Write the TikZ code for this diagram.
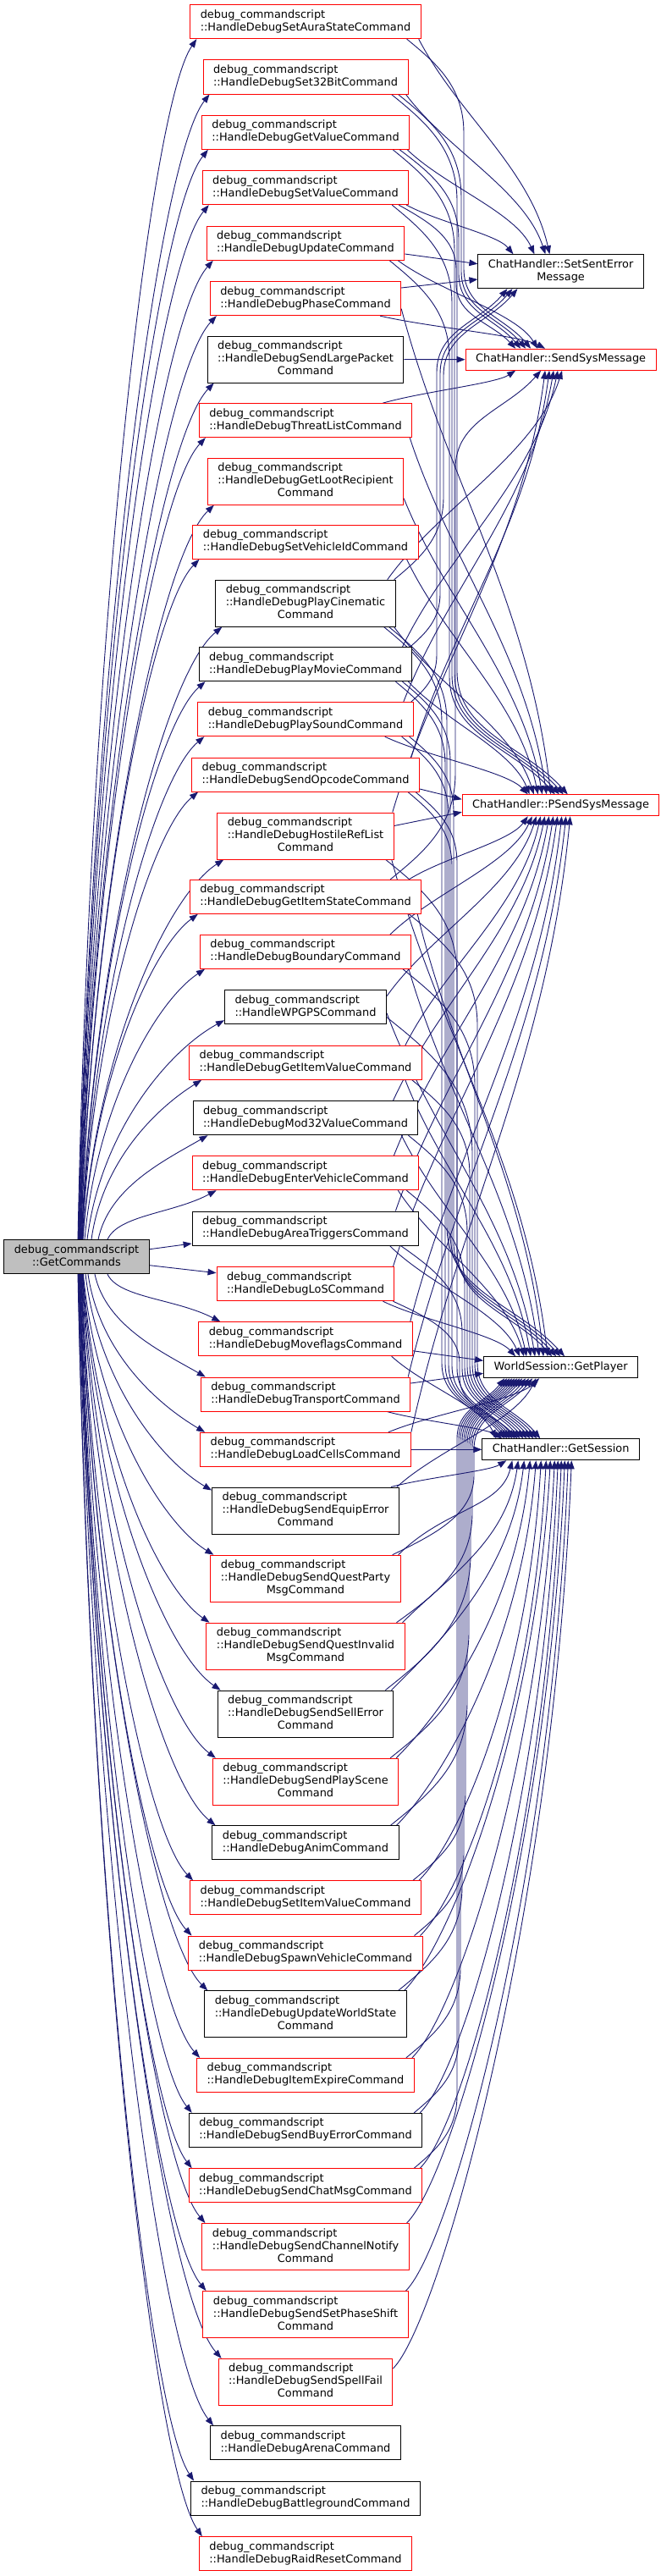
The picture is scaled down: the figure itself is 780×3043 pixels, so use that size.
\documentclass[tikz,border=0pt]{standalone}
\usepackage{fontspec}
\setmainfont{DejaVu Sans}
\usetikzlibrary{arrows.meta,calc}
\pgfdeclarelayer{bg}
\pgfsetlayers{bg,main}
\definecolor{edgec}{HTML}{191970}
\definecolor{gcfill}{HTML}{BFBFBF}
\definecolor{nred}{HTML}{FF0000}
\newcommand\ml[1]{\begin{tabular}{@{}l@{}}debug\_commandscript\\::#1\end{tabular}}
\newcommand\mlc[2]{\begin{tabular}{@{}l@{}}debug\_commandscript\\::#1\\\multicolumn{1}{@{}c@{}}{#2}\end{tabular}}
\newcommand\cl[1]{\begin{tabular}{@{}c@{}}#1\end{tabular}}
\tikzset{
  nbox/.style={draw, fill=white, line width=1pt, inner xsep=12pt, inner ysep=5pt, font=\fontsize{12.9}{15}\selectfont},
  rbox/.style={nbox, draw=nred},
  bbox/.style={nbox, draw=black},
  cedge/.style={draw=edgec, line width=0.9pt, -{Triangle[length=10pt,width=7.5pt]}},
}
% edge from GetCommands
\newcommand\gE[2]{\path (#1) coordinate (ta) (#2) coordinate (hb);
  \draw[cedge] let \p1=(ta), \p2=(hb) in (ta) .. controls ({\x1+0.1*(\x2-\x1)},{\y1+0.5*(\y2-\y1)}) and ({\x2-0.4*(\x2-\x1)},{\y2-0.04*(\y2-\y1)-25*sign(\y2-\y1)}) .. (hb);}
% direct edge
\newcommand\dA[2]{\path (#1) coordinate (ta) (#2) coordinate (hb);
  \draw[cedge] let \p1=(ta), \p2=(hb) in (ta) .. controls ({\x1+0.3*(\x2-\x1)},{\y1+0.35*(\y2-\y1)}) and ({\x2-0.15*(\x2-\x1)},{\y2-0.4*(\y2-\y1)}) .. (hb);}
% direct edge leaving at 45 degrees
\newcommand\dB[2]{\path (#1) coordinate (ta) (#2) coordinate (hb);
  \draw[cedge] let \p1=(ta), \p2=(hb) in (ta) .. controls ({\x1+55pt},{\y1+55*sign(\y2-\y1)}) and ({\x2-0.1*(\x2-\x1)},{\y2-0.5*(\y2-\y1)}) .. (hb);}
% edge running along a vertical lane
\newcommand\lE[3]{\path (#1) coordinate (ta) (#2) coordinate (hb);
  \draw[cedge] let \p1=(ta), \p2=(hb),
    \n1={#3-\x1}, \n2={sign(\y2-\y1)},
    \n3={min(1.5*abs(\n1)+10,0.45*abs(\y2-\y1))},
    \n4={min(abs(\x2-#3)+15,0.45*abs(\y2-\y1))} in
   (ta) .. controls ({\x1+0.5*(\n1)},{\y1+0.25*(\n3)*(\n2)}) and ({#3pt},{\y1+0.5*(\n3)*(\n2)}) .. ({#3pt},{\y1+(\n3)*(\n2)})
   -- ({#3pt},{\y2-(\n4)*(\n2)})
   .. controls ({#3pt},{\y2-0.5*(\n4)*(\n2)}) and ({\x2-0.4*(\x2-#3)},{\y2-0.4*(\n4)*(\n2)}) .. (hb);}
\begin{document}
\begin{tikzpicture}[x=1pt,y=-1pt]
\useasboundingbox (0,0) rectangle (780,3043);

\node[rbox] (n1) at (361,25.7) {\ml{HandleDebugSetAuraStateCommand}};
\node[rbox] (n2) at (361,91) {\ml{HandleDebugSet32BitCommand}};
\node[rbox] (n3) at (361,156.3) {\ml{HandleDebugGetValueCommand}};
\node[rbox] (n4) at (361,221.7) {\ml{HandleDebugSetValueCommand}};
\node[rbox] (n5) at (361,287.3) {\ml{HandleDebugUpdateCommand}};
\node[rbox] (n6) at (361,352.7) {\ml{HandleDebugPhaseCommand}};
\node[bbox] (n7) at (361,424.5) {\mlc{HandleDebugSendLargePacket}{Command}};
\node[rbox] (n8) at (361,496.7) {\ml{HandleDebugThreatListCommand}};
\node[rbox] (n9) at (361,568.7) {\mlc{HandleDebugGetLootRecipient}{Command}};
\node[rbox] (n10) at (361,640.3) {\ml{HandleDebugSetVehicleIdCommand}};
\node[bbox] (n11) at (361,712.7) {\mlc{HandleDebugPlayCinematic}{Command}};
\node[bbox] (n12) at (361,784.7) {\ml{HandleDebugPlayMovieCommand}};
\node[rbox] (n13) at (361,849.7) {\ml{HandleDebugPlaySoundCommand}};
\node[rbox] (n14) at (361,915) {\ml{HandleDebugSendOpcodeCommand}};
\node[rbox] (n15) at (361,987.5) {\mlc{HandleDebugHostileRefList}{Command}};
\node[rbox] (n16) at (361,1059.3) {\ml{HandleDebugGetItemStateCommand}};
\node[rbox] (n17) at (361,1124.3) {\ml{HandleDebugBoundaryCommand}};
\node[bbox] (n18) at (361,1189.7) {\ml{HandleWPGPSCommand}};
\node[rbox] (n19) at (361,1255.3) {\ml{HandleDebugGetItemValueCommand}};
\node[bbox] (n20) at (361,1320.7) {\ml{HandleDebugMod32ValueCommand}};
\node[rbox] (n21) at (361,1385.7) {\ml{HandleDebugEnterVehicleCommand}};
\node[bbox] (n22) at (361,1451) {\ml{HandleDebugAreaTriggersCommand}};
\node[rbox] (n23) at (361,1516.7) {\ml{HandleDebugLoSCommand}};
\node[rbox] (n24) at (361,1581.7) {\ml{HandleDebugMoveflagsCommand}};
\node[rbox] (n25) at (361,1647) {\ml{HandleDebugTransportCommand}};
\node[rbox] (n26) at (361,1712.3) {\ml{HandleDebugLoadCellsCommand}};
\node[bbox] (n27) at (361,1784.5) {\mlc{HandleDebugSendEquipError}{Command}};
\node[rbox] (n28) at (361,1864.7) {\mlc{HandleDebugSendQuestParty}{MsgCommand}};
\node[rbox] (n29) at (361,1944.7) {\mlc{HandleDebugSendQuestInvalid}{MsgCommand}};
\node[bbox] (n30) at (361,2024.5) {\mlc{HandleDebugSendSellError}{Command}};
\node[rbox] (n31) at (361,2104.7) {\mlc{HandleDebugSendPlayScene}{Command}};
\node[bbox] (n32) at (361,2176.7) {\ml{HandleDebugAnimCommand}};
\node[rbox] (n33) at (361,2241.8) {\ml{HandleDebugSetItemValueCommand}};
\node[rbox] (n34) at (361,2307) {\ml{HandleDebugSpawnVehicleCommand}};
\node[bbox] (n35) at (361,2379.3) {\mlc{HandleDebugUpdateWorldState}{Command}};
\node[rbox] (n36) at (361,2451.3) {\ml{HandleDebugItemExpireCommand}};
\node[bbox] (n37) at (361,2516.3) {\ml{HandleDebugSendBuyErrorCommand}};
\node[rbox] (n38) at (361,2581.7) {\ml{HandleDebugSendChatMsgCommand}};
\node[rbox] (n39) at (361,2654) {\mlc{HandleDebugSendChannelNotify}{Command}};
\node[rbox] (n40) at (361,2734) {\mlc{HandleDebugSendSetPhaseShift}{Command}};
\node[rbox] (n41) at (361,2813.8) {\mlc{HandleDebugSendSpellFail}{Command}};
\node[bbox] (n42) at (361,2885.7) {\ml{HandleDebugArenaCommand}};
\node[bbox] (n43) at (361,2951) {\ml{HandleDebugBattlegroundCommand}};
\node[rbox] (n44) at (361,3016.7) {\ml{HandleDebugRaidResetCommand}};

\node[bbox] (sse) at (662.6,320.7) {\cl{ChatHandler::SetSentError\\Message}};
\node[rbox] (ssm) at (662.6,424.7) {\cl{ChatHandler::SendSysMessage}};
\node[rbox] (pssm) at (662.6,951.3) {\cl{ChatHandler::PSendSysMessage}};
\node[bbox] (gp) at (662.6,1615.3) {\cl{WorldSession::GetPlayer}};
\node[bbox] (gs) at (662.6,1712.3) {\cl{ChatHandler::GetSession}};
\node[bbox, fill=gcfill] (gc) at (90.5,1484.7) {\cl{debug\_commandscript\\::GetCommands}};

\begin{pgfonlayer}{bg}
\fill[white] (0,0) rectangle (780,3043);
% GetCommands -> handlers
\gE{$(gc.north)+(1.5,0)$}{$(n1.south west)+(8,0)$}
\gE{$(gc.north)+(1.9,0)$}{$(n2.south west)+(8,0)$}
\gE{$(gc.north)+(2.3,0)$}{$(n3.south west)+(8,0)$}
\gE{$(gc.north)+(2.7,0)$}{$(n4.south west)+(8,0)$}
\gE{$(gc.north)+(3.1,0)$}{$(n5.south west)+(8,0)$}
\gE{$(gc.north)+(3.5,0)$}{$(n6.south west)+(8,0)$}
\gE{$(gc.north)+(3.9,0)$}{$(n7.south west)+(8,0)$}
\gE{$(gc.north)+(4.3,0)$}{$(n8.south west)+(8,0)$}
\gE{$(gc.north)+(4.7,0)$}{$(n9.south west)+(8,0)$}
\gE{$(gc.north)+(5.1,0)$}{$(n10.south west)+(8,0)$}
\gE{$(gc.north)+(5.5,0)$}{$(n11.south west)+(8,0)$}
\gE{$(gc.north)+(5.9,0)$}{$(n12.south west)+(8,0)$}
\gE{$(gc.north)+(6.3,0)$}{$(n13.south west)+(8,0)$}
\gE{$(gc.north)+(6.7,0)$}{$(n14.south west)+(8,0)$}
\gE{$(gc.north)+(7.1,0)$}{$(n15.south west)+(8,0)$}
\gE{$(gc.north)+(7.5,0)$}{$(n16.south west)+(10,0)$}
\gE{$(gc.north)+(9.5,0)$}{$(n17.south west)+(6,0)$}
\gE{$(gc.north)+(12.5,0)$}{$(n18.south west)+(0,-5)$}
\gE{$(gc.north)+(17.5,0)$}{$(n19.south west)+(15,0)$}
\gE{$(gc.north)+(25.5,0)$}{$(n20.south west)+(18,0)$}
\gE{$(gc.north)+(36.5,0)$}{$(n21.south west)+(29,0)$}
\draw[cedge] ($(gc.east)+(0,-9)$) -- ($(n22.west)+(0,18)$);
\draw[cedge] ($(gc.east)+(0,10)$) -- ($(n23.west)+(0,-13)$);
\gE{$(gc.south)+(36.5,0)$}{$(n24.north west)+(26,0)$}
\gE{$(gc.south)+(21.5,0)$}{$(n25.north west)+(6,0)$}
\gE{$(gc.south)+(13.5,0)$}{$(n26.north west)+(6,0)$}
\gE{$(gc.south)+(10.5,0)$}{$(n27.north west)+(0,4)$}
\gE{$(gc.south)+(7.9,0)$}{$(n28.north west)+(4,0)$}
\gE{$(gc.south)+(7.5,0)$}{$(n29.north west)+(4,0)$}
\gE{$(gc.south)+(7.1,0)$}{$(n30.north west)+(4,0)$}
\gE{$(gc.south)+(6.7,0)$}{$(n31.north west)+(4,0)$}
\gE{$(gc.south)+(6.3,0)$}{$(n32.north west)+(4,0)$}
\gE{$(gc.south)+(5.9,0)$}{$(n33.north west)+(4,0)$}
\gE{$(gc.south)+(5.5,0)$}{$(n34.north west)+(4,0)$}
\gE{$(gc.south)+(5.1,0)$}{$(n35.north west)+(4,0)$}
\gE{$(gc.south)+(4.7,0)$}{$(n36.north west)+(4,0)$}
\gE{$(gc.south)+(4.3,0)$}{$(n37.north west)+(4,0)$}
\gE{$(gc.south)+(3.9,0)$}{$(n38.north west)+(4,0)$}
\gE{$(gc.south)+(3.5,0)$}{$(n39.north west)+(4,0)$}
\gE{$(gc.south)+(3.1,0)$}{$(n40.north west)+(4,0)$}
\gE{$(gc.south)+(2.7,0)$}{$(n41.north west)+(4,0)$}
\gE{$(gc.south)+(2.3,0)$}{$(n42.north west)+(4,0)$}
\gE{$(gc.south)+(1.9,0)$}{$(n43.north west)+(4,0)$}
\gE{$(gc.south)+(1.5,0)$}{$(n44.north west)+(4,0)$}

% handlers -> callees
\dA{$(n1.south east)+(-3,0)$}{$(sse.north west)+(85,0)$}
\lE{$(n1.south east)+(-17,0)$}{$(ssm.north west)+(77.5,0)$}{548}
\dA{$(n2.south east)+(-3,0)$}{$(sse.north west)+(80,0)$}
\lE{$(n2.south east)+(-12,0)$}{$(ssm.north west)+(71.5,0)$}{545}
\lE{$(n2.south east)+(-20,0)$}{$(pssm.north west)+(125,0)$}{540}
\dA{$(n3.south east)+(-3,0)$}{$(sse.north west)+(67,0)$}
\lE{$(n3.south east)+(-12,0)$}{$(ssm.north west)+(65.5,0)$}{542}
\lE{$(n3.south east)+(-20,0)$}{$(pssm.north west)+(120,0)$}{537}
\dA{$(n4.south east)+(-3,0)$}{$(sse.north west)+(42,0)$}
\lE{$(n4.south east)+(-12,0)$}{$(ssm.north west)+(59.5,0)$}{539}
\lE{$(n4.south east)+(-20,0)$}{$(pssm.north west)+(115,0)$}{534}
\draw[cedge] ($(n5.east)+(0,12.7)$) -- ($(sse.west)+(0,-9)$);
\dA{$(n5.south east)+(-8,0)$}{$(ssm.north west)+(85.5,0)$}
\lE{$(n5.south east)+(-18,0)$}{$(pssm.north west)+(110,0)$}{531}
\draw[cedge] ($(n6.east)+(0,-12.7)$) -- ($(sse.west)+(0,9.3)$);
\dA{$(n6.south east)+(-25,0)$}{$(ssm.north west)+(94.5,0)$}
\dA{$(n6.east)+(0,12)$}{$(pssm.north west)+(105,0)$}
\draw[cedge] (n7.east) -- (ssm.west);
\dA{$(n8.north east)+(-35,0)$}{$(ssm.south west)+(59.5,0)$}
\dA{$(n8.south east)+(-3,0)$}{$(pssm.north west)+(100,0)$}
\dA{$(n9.east)+(0,20)$}{$(pssm.north west)+(95,0)$}
\dA{$(n10.south east)+(-14,0)$}{$(pssm.north west)+(90,0)$}
\lE{$(n11.north east)+(-2,0)$}{$(sse.south west)+(47,0)$}{524}
\dA{$(n11.north east)+(-10,0)$}{$(ssm.south west)+(114.5,0)$}
\dA{$(n11.south east)+(-2,0)$}{$(pssm.north west)+(85,0)$}
\lE{$(n11.south east)+(-8,0)$}{$(gp.north west)+(96,0)$}{528}
\lE{$(n11.south east)+(-14,0)$}{$(gs.north west)+(27,0)$}{522}
\lE{$(n12.north east)+(-3,0)$}{$(sse.south west)+(41,0)$}{520}
\dA{$(n12.north east)+(-12,0)$}{$(ssm.south west)+(109.5,0)$}
\dA{$(n12.south east)+(-5,0)$}{$(pssm.north west)+(80,0)$}
\lE{$(n12.south east)+(-12,0)$}{$(gp.north west)+(91,0)$}{532}
\lE{$(n12.south east)+(-20,0)$}{$(gs.north west)+(30,0)$}{526}
\lE{$(n13.north east)+(-3,0)$}{$(sse.south west)+(35,0)$}{516}
\dA{$(n13.north east)+(-12,0)$}{$(ssm.south west)+(104.5,0)$}
\dA{$(n13.south east)+(-34,0)$}{$(pssm.north west)+(78,0)$}
\lE{$(n13.south east)+(-5,0)$}{$(gp.north west)+(86,0)$}{536}
\lE{$(n13.south east)+(-14,0)$}{$(gs.north west)+(33,0)$}{530}
\dA{$(n14.north east)+(-10,0)$}{$(ssm.south west)+(99.5,0)$}
\draw[cedge] ($(n14.east)+(0,17)$) -- ($(pssm.west)+(0,-7)$);
\lE{$(n14.south east)+(-5,0)$}{$(gp.north west)+(81,0)$}{540}
\lE{$(n14.south east)+(-14,0)$}{$(gs.north west)+(36,0)$}{534}
\dA{$(n15.north east)+(-2,0)$}{$(ssm.south west)+(94.5,0)$}
\draw[cedge] ($(n15.east)+(0,-12)$) -- ($(pssm.west)+(0,8)$);
\dA{$(n15.south east)+(-3,0)$}{$(gp.north west)+(76,0)$}
\lE{$(n15.south east)+(-10,0)$}{$(gs.north west)+(39,0)$}{540}
\lE{$(n16.north east)+(-37,0)$}{$(ssm.south west)+(89.5,0)$}{538}
\dA{$(n16.north east)+(-15,0)$}{$(pssm.south west)+(78,0)$}
\dA{$(n16.south east)+(-5,0)$}{$(gp.north west)+(71,0)$}
\lE{$(n16.south east)+(-15,0)$}{$(gs.north west)+(69,0)$}{564}
\dA{$(n17.north east)+(-25,0)$}{$(pssm.south west)+(83,0)$}
\dA{$(n17.south east)+(-3,0)$}{$(gp.north west)+(66,0)$}
\lE{$(n17.south east)+(-10,0)$}{$(gs.north west)+(65,0)$}{561}
\dA{$(n18.east)+(0,-13)$}{$(pssm.south west)+(88,0)$}
\dA{$(n18.east)+(0,7)$}{$(gp.north west)+(61,0)$}
\lE{$(n18.east)+(0,12)$}{$(gs.north west)+(61,0)$}{558}
\dA{$(n19.north east)+(-20,0)$}{$(pssm.south west)+(93,0)$}
\dA{$(n19.south east)+(-20,0)$}{$(gp.north west)+(56,0)$}
\lE{$(n19.south east)+(-12,0)$}{$(gs.north west)+(57,0)$}{555}
\dA{$(n20.north east)+(-30,0)$}{$(pssm.south west)+(98,0)$}
\dA{$(n20.south east)+(-20,0)$}{$(gp.north west)+(51,0)$}
\lE{$(n20.south east)+(-12,0)$}{$(gs.north west)+(53,0)$}{552}
\dA{$(n21.north east)+(-30,0)$}{$(pssm.south west)+(103,0)$}
\dA{$(n21.south east)+(-25,0)$}{$(gp.north west)+(48,0)$}
\lE{$(n21.south east)+(-15,0)$}{$(gs.north west)+(49,0)$}{549}
\dA{$(n22.north east)+(-28,0)$}{$(pssm.south west)+(108,0)$}
\dA{$(n22.south east)+(-35,0)$}{$(gp.north west)+(43,0)$}
\lE{$(n22.south east)+(-22,0)$}{$(gs.north west)+(45,0)$}{546}
\dA{$(n23.north east)+(-2,0)$}{$(pssm.south west)+(113,0)$}
\dA{$(n23.south east)+(-14,0)$}{$(gp.north west)+(38,0)$}
\lE{$(n23.south east)+(-2,0)$}{$(gs.north west)+(42,0)$}{543}
\dA{$(n24.north east)+(-3,0)$}{$(pssm.south west)+(118,0)$}
\draw[cedge] ($(n24.east)+(0,14)$) -- ($(gp.west)+(0,-8)$);
\dA{$(n24.south east)+(-25,0)$}{$(gs.north west)+(17,0)$}
\dA{$(n25.north east)+(-3,0)$}{$(pssm.south west)+(123,0)$}
\draw[cedge] ($(n25.east)+(0,-13)$) -- ($(gp.west)+(0,7)$);
\dA{$(n25.south east)+(-28,0)$}{$(gs.north west)+(24,0)$}
\dA{$(n26.north east)+(0,0)$}{$(pssm.south west)+(128,0)$}
\dA{$(n26.north east)+(-27,0)$}{$(gp.south west)+(66,0)$}
\draw[cedge] (n26.east) -- (gs.west);
\dA{$(n27.north east)+(-3,0)$}{$(gp.south west)+(62,0)$}
\dA{$(n27.north east)+(-10,0)$}{$(gs.south west)+(29,0)$}
\lE{$(n28.north east)+(-10,0)$}{$(gp.south west)+(58,0)$}{560}
\dB{$(n28.north east)+(-3,0)$}{$(gs.south west)+(36,0)$}
\lE{$(n29.north east)+(-10,0)$}{$(gp.south west)+(54,0)$}{558}
\dB{$(n29.north east)+(-3,0)$}{$(gs.south west)+(43,0)$}
\lE{$(n30.north east)+(-10,0)$}{$(gp.south west)+(50,0)$}{556}
\dB{$(n30.north east)+(-3,0)$}{$(gs.south west)+(50,0)$}
\lE{$(n31.north east)+(-10,0)$}{$(gp.south west)+(46,0)$}{554}
\dB{$(n31.north east)+(-3,0)$}{$(gs.south west)+(57,0)$}
\lE{$(n32.north east)+(-10,0)$}{$(gp.south west)+(43,0)$}{552}
\dB{$(n32.north east)+(-3,0)$}{$(gs.south west)+(64,0)$}
\lE{$(n33.north east)+(-10,0)$}{$(gp.south west)+(40,0)$}{550}
\dB{$(n33.north east)+(-3,0)$}{$(gs.south west)+(70,0)$}
\lE{$(n34.north east)+(-10,0)$}{$(gp.south west)+(37,0)$}{548}
\dB{$(n34.north east)+(-3,0)$}{$(gs.south west)+(76,0)$}
\lE{$(n35.north east)+(-10,0)$}{$(gp.south west)+(34,0)$}{546}
\dB{$(n35.north east)+(-3,0)$}{$(gs.south west)+(81,0)$}
\lE{$(n36.north east)+(-10,0)$}{$(gp.south west)+(31,0)$}{544}
\dB{$(n36.north east)+(-3,0)$}{$(gs.south west)+(86,0)$}
\lE{$(n37.north east)+(-10,0)$}{$(gp.south west)+(28,0)$}{542}
\dB{$(n37.north east)+(-3,0)$}{$(gs.south west)+(90,0)$}
\lE{$(n38.north east)+(-10,0)$}{$(gp.south west)+(25,0)$}{540}
\dB{$(n38.north east)+(-3,0)$}{$(gs.south west)+(94,0)$}
\dB{$(n39.north east)+(-3,0)$}{$(gs.south west)+(98,0)$}
\dB{$(n40.north east)+(-3,0)$}{$(gs.south west)+(102,0)$}
\dB{$(n41.east)+(0,-16)$}{$(gs.south west)+(106,0)$}
\end{pgfonlayer}
\end{tikzpicture}
\end{document}
